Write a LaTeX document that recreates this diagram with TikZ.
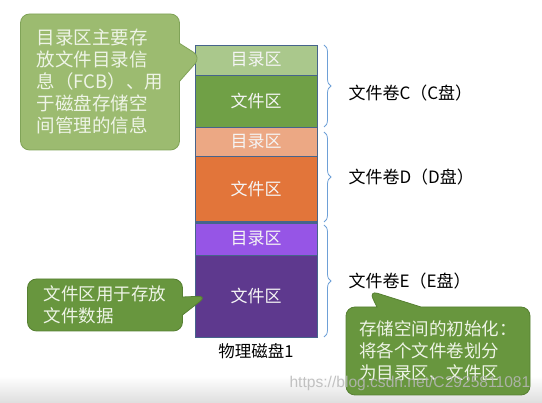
\documentclass[tikz,border=0pt]{standalone}
\usepackage{fontspec}
\setmainfont{Noto Sans CJK SC}
\newfontfamily\markfont{Liberation Sans}
\usetikzlibrary{positioning,shapes.callouts,decorations.pathreplacing}

\definecolor{dirc}{RGB}{170,200,140}
\definecolor{filec}{RGB}{112,160,70}
\definecolor{dird}{RGB}{236,168,132}
\definecolor{filed}{RGB}{226,117,58}
\definecolor{dire}{RGB}{150,85,230}
\definecolor{filee}{RGB}{94,57,142}
\definecolor{diskedge}{RGB}{70,100,140}
\definecolor{bracecol}{RGB}{110,160,215}
\definecolor{notelight}{RGB}{156,187,112}
\definecolor{notelightedge}{RGB}{128,163,88}
\definecolor{notedark}{RGB}{104,150,62}
\definecolor{notedarkedge}{RGB}{86,128,50}
\definecolor{notetext}{RGB}{238,244,230}

\tikzset{
  block/.style={draw=diskedge, line width=0.6pt, minimum width=122pt,
    inner sep=0pt, outer sep=0pt, text=white!92!gray,
    font=\fontsize{17}{20}\selectfont},
  volbrace/.style={draw=bracecol, line width=0.8pt,
    decorate, decoration={brace, amplitude=7pt}},
  vollabel/.style={anchor=west, font=\fontsize{17}{20}\selectfont},
  notebox/.style={rectangle callout, rounded corners=9pt, line width=0.8pt,
    align=left, text=notetext, inner sep=0pt,
    font=\fontsize{17.5}{22}\selectfont}
}

\begin{document}
\begin{tikzpicture}[x=1pt,y=-1pt]

\useasboundingbox (0,0) rectangle (542,403);

% Bottom fade
\shade[top color=white, bottom color=black!13] (0,376) rectangle (542,403);

% Physical disk
\node[block, fill=dirc, minimum height=30pt, anchor=north] (dirC) at (256,45) {目录区};
\node[block, fill=filec, minimum height=52pt, below=0pt of dirC] (fileC) {文件区};
\node[block, fill=dird, minimum height=29pt, below=0pt of fileC] (dirD) {目录区};
\node[block, fill=filed, minimum height=66pt, below=0pt of dirD] (fileD) {文件区};
\node[block, fill=dire, minimum height=32pt, below=1pt of fileD] (dirE) {目录区};
\node[block, fill=filee, minimum height=82pt, below=0pt of dirE] (fileE) {文件区};
\draw[diskedge, line width=2pt] (fileD.south west) -- (fileD.south east);

\node[font=\fontsize{16.5}{20}\selectfont, below=3pt of fileE] (disk) {物理磁盘1};

% Volumes
\draw[volbrace] ([xshift=7pt]dirC.north east) -- ([xshift=7pt]fileC.south east)
  coordinate[midway, xshift=9pt] (tipC);
\draw[volbrace] ([xshift=7pt,yshift=-5pt]dirD.north east) -- ([xshift=7pt]fileD.south east)
  coordinate[midway, xshift=9pt] (tipD);
\draw[volbrace] ([xshift=7pt,yshift=-2pt]dirE.north east) -- ([xshift=7pt]fileE.south east)
  coordinate[midway, xshift=9pt] (tipE);

\node[vollabel, right=12pt of tipC, yshift=-7pt] (volC) {文件卷C（C盘）};
\node[vollabel, right=12pt of tipD] (volD) {文件卷D（D盘）};
\node[vollabel, right=12pt of tipE] (volE) {文件卷E（E盘）};

% Notes
\node[notebox, fill=notelight, draw=notelightedge, minimum width=159pt,
  minimum height=136pt, callout pointer width=38pt,
  font=\fontsize{18.5}{22}\selectfont,
  callout absolute pointer={([xshift=6pt,yshift=3pt]dirC.west)}] (dirnote) at (100,82)
  {目录区主要存\\放文件目录信\\息（FCB）、用\\于磁盘存储空\\间管理的信息};

\node[notebox, fill=notedark, draw=notedarkedge, minimum width=155pt,
  minimum height=52pt, callout pointer width=18pt,
  callout absolute pointer={([xshift=12pt]fileE.west)}] (filenote) at (105,305)
  {文件区用于存放\\文件数据};

\node[notebox, fill=notedark, draw=notedarkedge, minimum width=184pt,
  minimum height=88pt, callout pointer width=44pt,
  callout absolute pointer={([xshift=24pt,yshift=2pt]volE.south west)}] (initnote) at (438,351)
  {存储空间的初始化：\\将各个文件卷划分\\为目录区、文件区};

% Watermark
\node[anchor=west, font=\markfont\fontsize{15.6}{16}\selectfont, text=black!28,
  opacity=0.85] (mark) at (286,383) {https://blog.csdn.net/C2925811081};

\end{tikzpicture}
\end{document}
